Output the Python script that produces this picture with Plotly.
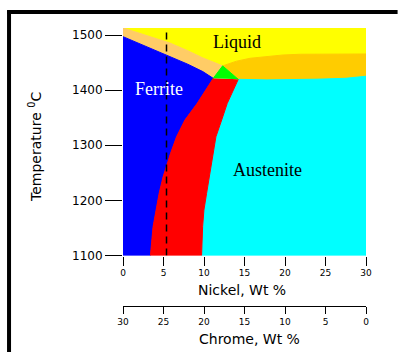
import plotly.graph_objects as go

# ---- axis ranges / ticks ----
T_MIN, T_MAX = 1100, 1512.7
NI_MIN, NI_MAX = 0, 30
ni_ticks = [0, 5, 10, 15, 20, 25, 30]
cr_ticks = [0, 5, 10, 15, 20, 25, 30]
t_ticks = [1100, 1200, 1300, 1400, 1500]
section_ni = 5.37  # dashed alloy section line (Ni wt %)

# ---- phase boundaries (Ni wt %, degC) ----
liq_left_ni = [0.0, 2.9, 5.78, 8.0, 9.86, 12.3]
liq_left_t = [1512.7, 1499.5, 1485.5, 1471.5, 1458.4, 1444.0]
liq_right_ni = [12.3, 14.0, 15.68, 17.8, 19.77, 21.87, 26.0, 30.0]
liq_right_t = [1444.0, 1452.5, 1457.8, 1461.5, 1463.8, 1465.1, 1465.5, 1465.6]
delta_sol_ni = [0.0, 2.9, 5.78, 8.0, 9.86, 11.14]
delta_sol_t = [1497.0, 1479.0, 1460.7, 1447.0, 1433.6, 1421.4]
gamma_sol_ni = [14.23, 17.75, 23.94, 27.5, 30.0]
gamma_sol_t = [1419.6, 1418.6, 1419.8, 1421.5, 1425.2]
delta_solvus_ni = [11.14, 9.16, 7.64, 6.61, 5.87, 5.45, 4.95, 4.46, 4.05, 3.71, 3.39]
delta_solvus_t = [1421.4, 1376.0, 1345.7, 1315.4, 1285.3, 1264.0, 1242.8, 1212.7, 1182.4, 1152.1, 1100.0]
gamma_solvus_ni = [14.23, 12.87, 12.18, 11.47, 11.2, 10.94, 10.64, 10.32, 9.99, 9.83, 9.70]
gamma_solvus_t = [1419.6, 1376.0, 1345.7, 1315.4, 1289.0, 1264.0, 1242.8, 1212.7, 1182.4, 1152.1, 1100.0]
three_phase_apex_ni, three_phase_apex_t = 12.3, 1444.0

# ---- region colours ----
C_LIQ = "#FFFF00"
C_DL = "#FFCC66"
C_FER = "#0000FF"
C_DG = "#FF0000"
C_TRI = "#00FF00"
C_GL = "#FFCC00"
C_AUS = "#00FFFF"

regions = [
    (liq_left_ni + liq_right_ni[1:] + [NI_MAX, NI_MIN],
     liq_left_t + liq_right_t[1:] + [T_MAX, T_MAX], C_LIQ),
    (liq_left_ni + delta_sol_ni[::-1],
     liq_left_t + delta_sol_t[::-1], C_DL),
    (delta_sol_ni + delta_solvus_ni[1:] + [NI_MIN],
     delta_sol_t + delta_solvus_t[1:] + [T_MIN], C_FER),
    (liq_right_ni + gamma_sol_ni[::-1],
     liq_right_t + gamma_sol_t[::-1], C_GL),
    (gamma_sol_ni + [NI_MAX] + gamma_solvus_ni[::-1],
     gamma_sol_t + [T_MIN] + gamma_solvus_t[::-1], C_AUS),
    (delta_solvus_ni + gamma_solvus_ni[::-1],
     delta_solvus_t + gamma_solvus_t[::-1], C_DG),
    ([delta_sol_ni[-1], three_phase_apex_ni, gamma_sol_ni[0]],
     [delta_sol_t[-1], three_phase_apex_t, gamma_sol_t[0]], C_TRI),
]

fig = go.Figure()
for xs, ys, col in regions:
    fig.add_trace(go.Scatter(x=xs, y=ys, mode="lines", fill="toself",
                             fillcolor=col, line=dict(color=col, width=1),
                             hoverinfo="skip", showlegend=False))

fig.add_trace(go.Scatter(x=[section_ni, section_ni], y=[T_MIN, T_MAX], mode="lines",
                         line=dict(color="black", width=1.5, dash="7px,5px"),
                         hoverinfo="skip", showlegend=False))

# invisible carrier trace so the Chrome axis is drawn
fig.add_trace(go.Scatter(x=cr_ticks, y=[T_MIN] * len(cr_ticks), xaxis="x2", yaxis="y",
                         mode="markers", marker=dict(opacity=0, size=1),
                         hoverinfo="skip", showlegend=False))

SANS = "DejaVu Sans"
SERIF = "Liberation Serif"

fig.update_layout(
    width=398, height=352,
    margin=dict(l=123, r=32, t=28, b=0),
    paper_bgcolor="white", plot_bgcolor="white",
    showlegend=False,
    xaxis=dict(range=[NI_MIN, NI_MAX], domain=[0, 1], anchor="y",
               tickvals=ni_ticks, ticks="outside", ticklen=9, tickcolor="black",
               showline=False, showgrid=False, zeroline=False,
               tickfont=dict(family=SANS, size=9, color="black"), automargin=False),
    xaxis2=dict(range=[30, 0], overlaying="x", anchor="free", position=0.1429,
                side="bottom", tickvals=cr_ticks, ticks="outside", ticklen=7,
                tickcolor="black", showline=True, linecolor="black", linewidth=1,
                showgrid=False, zeroline=False,
                tickfont=dict(family=SANS, size=9, color="black"), automargin=False),
    yaxis=dict(range=[T_MIN, T_MAX], domain=[0.2978, 1], anchor="x",
               tickvals=t_ticks, ticks="outside", ticklen=17, tickcolor="black",
               showline=False, showgrid=False, zeroline=False,
               tickfont=dict(family=SANS, size=12, color="black"), automargin=False),
)

ann = [
    dict(x=14.03, y=1487.8, xref="x", yref="y", text="Liquid",
         font=dict(family=SERIF, size=18, color="black")),
    dict(x=4.42, y=1401.5, xref="x", yref="y", text="Ferrite",
         font=dict(family=SERIF, size=18, color="white")),
    dict(x=17.85, y=1255, xref="x", yref="y", text="Austenite",
         font=dict(family=SERIF, size=18, color="black")),
    dict(x=-0.362, y=0.633, xref="paper", yref="paper", text="Temperature <sup>0</sup>C",
         textangle=-90, font=dict(family=SANS, size=14, color="black")),
    dict(x=0.4877, y=0.1914, xref="paper", yref="paper", text="Nickel, Wt %",
         font=dict(family=SANS, size=14, color="black")),
    dict(x=0.52, y=0.0401, xref="paper", yref="paper", text="Chrome, Wt %",
         font=dict(family=SANS, size=14, color="black")),
]
for a in ann:
    a.update(showarrow=False, xanchor="center", yanchor="middle")
fig.update_layout(annotations=ann)

fig.update_layout(shapes=[
    dict(type="line", xref="paper", yref="paper", x0=-0.477, x1=1.13, y0=1.049, y1=1.049,
         line=dict(color="black", width=4)),
    dict(type="line", xref="paper", yref="paper", x0=-0.469, x1=-0.469, y0=1.055, y1=-0.02,
         line=dict(color="black", width=4)),
])

fig.write_html("out.html",
               config={"displayModeBar": False, "staticPlot": True},
               post_script="document.body.style.margin='0px';"
                           "document.body.style.overflow='hidden';")
